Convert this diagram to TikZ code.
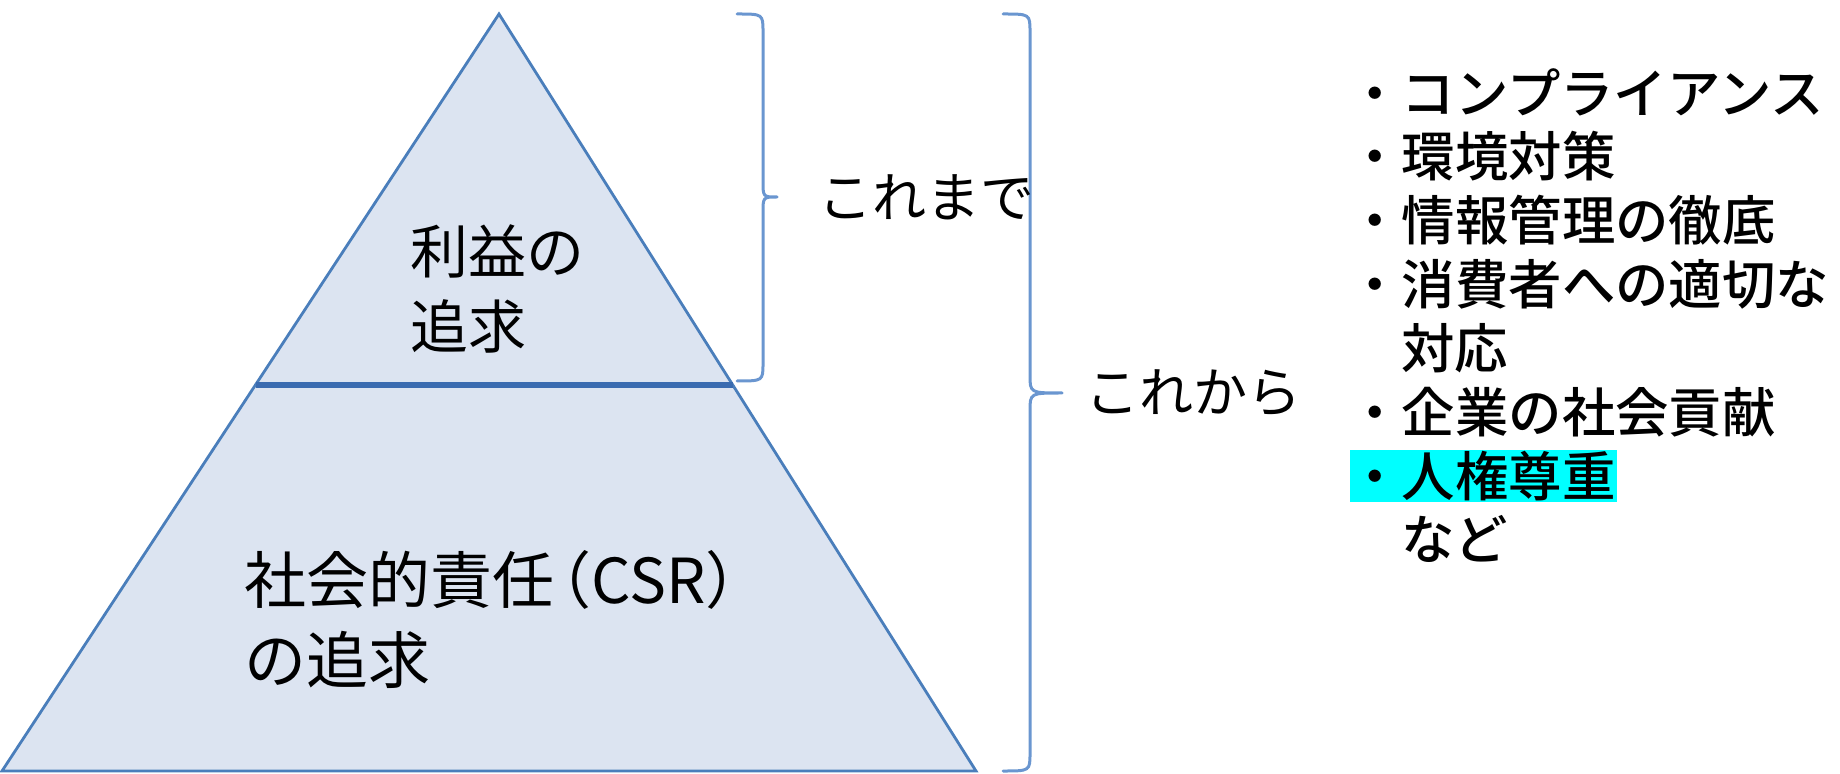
\documentclass[tikz,border=0pt]{standalone}
\usepackage{fontspec}
\newfontfamily\jpb{Noto Sans CJK JP Medium}
\newfontfamily\jpm{Noto Sans CJK JP}
\definecolor{trifill}{HTML}{DCE4F1}
\definecolor{triline}{HTML}{4A7EBB}
\definecolor{divline}{HTML}{3A6BB0}
\definecolor{brline}{HTML}{6A96D0}
\definecolor{hl}{HTML}{00FFFF}
\begin{document}
\begin{tikzpicture}[x=0.5pt,y=-0.5pt,
  br/.style={draw=brline,line width=1.5pt,line cap=round,line join=round},
  tritext/.style={font=\jpm\fontsize{29pt}{29pt}\selectfont,inner sep=0pt,anchor=west},
  tritextb/.style={font=\jpm\fontsize{31pt}{31pt}\selectfont,inner sep=0pt,anchor=west},
  lbl/.style={font=\jpm\fontsize{27pt}{27pt}\selectfont,inner sep=0pt,anchor=west},
  item/.style={font=\jpb\fontsize{26.7pt}{26.7pt}\selectfont,inner sep=0pt,anchor=west}]
\useasboundingbox (0,0) rectangle (1840,774);
% pyramid
\coordinate (apex) at (499,14);
\coordinate (bl) at (2,771);
\coordinate (br) at (976,771);
\coordinate (dl) at (256,385);
\coordinate (dr) at (733,385);
\fill[trifill] (apex) -- (bl) -- (br) -- cycle;
\draw[triline,line width=1.4pt,line join=miter] (apex) -- (bl) -- (br) -- cycle;
\draw[divline,line width=3pt] (dl) -- (dr);
% texts in pyramid
\node[tritext] (t1) at (410,251) {利益の};
\node[tritext] (t2) at (410,326) {追求};
\node[tritextb] (t3) at (244,580) {社会的責任\kern-0.4em（CSR）};
\node[tritextb] (t4) at (244,660) {の追求};
% brackets
\draw[br] (737,14) .. controls (763,14) .. (763,32) -- (763,181) .. controls (763,197) .. (777,197)
          .. controls (763,197) .. (763,213) -- (763,363) .. controls (763,381) .. (737,381);
\draw[br] (1003,14) .. controls (1030,14) .. (1030,32) -- (1030,375) .. controls (1030,393) .. (1062,393)
          .. controls (1030,393) .. (1030,411) -- (1030,753) .. controls (1030,771) .. (1003,771);
\node[lbl] (kore1) at (818,197) {これまで};
\node[lbl] (kore2) at (1085,393) {これから};
% list
\fill[hl] (1350,450) rectangle (1617,502);
\node[item] (i1) at (1348,92) {・コンプライアンス};
\node[item] (i2) at (1348,156) {・環境対策};
\node[item] (i3) at (1348,220) {・情報管理の徹底};
\node[item] (i4) at (1348,284) {・消費者への適切な};
\node[item] (i5) at (1401,348) {対応};
\node[item] (i6) at (1348,412) {・企業の社会貢献};
\node[item] (i7) at (1348,476) {・人権尊重};
\node[item] (i8) at (1401,539) {など};
\end{tikzpicture}
\end{document}
